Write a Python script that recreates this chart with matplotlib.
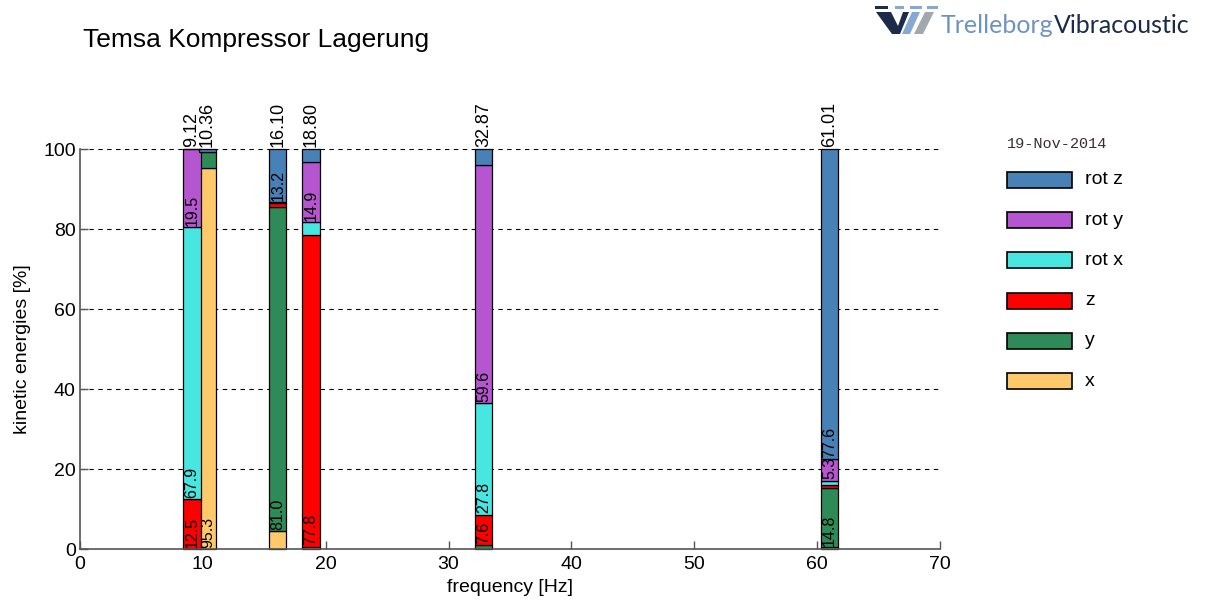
import matplotlib
matplotlib.use("Agg")
import matplotlib.pyplot as plt
from matplotlib.patches import Rectangle, Polygon
from matplotlib.text import Annotation
import numpy as np

# Eigenfrequencies of the mounted compressor [Hz]
frequencies = [9.12, 10.36, 16.10, 18.80, 32.87, 61.01]

# Kinetic energy distribution per mode [%], stacked bottom to top
energy_x = [0.0, 95.3, 4.4, 0.6, 0.0, 0.5]
energy_y = [0.0, 3.9, 81.0, 0.0, 1.0, 14.8]
energy_z = [12.5, 0.0, 1.2, 77.8, 7.6, 0.8]
energy_rot_x = [67.9, 0.0, 0.1, 3.4, 27.8, 1.0]
energy_rot_y = [19.5, 0.0, 0.1, 14.9, 59.6, 5.3]
energy_rot_z = [0.1, 0.8, 13.2, 3.3, 4.0, 77.6]

series_names = ["x", "y", "z", "rot x", "rot y", "rot z"]
series_values = [energy_x, energy_y, energy_z, energy_rot_x, energy_rot_y, energy_rot_z]
series_colors = ["#fec96a", "#2e8b57", "#ff0000", "#48e6e0", "#b655d0", "#4781b6"]

x_ticks = [0, 10, 20, 30, 40, 50, 60, 70]
y_ticks = [0, 20, 40, 60, 80, 100]
date_label = "19-Nov-2014"
title_text = "Temsa Kompressor Lagerung"

plt.rcParams["font.family"] = ["Liberation Sans", "DejaVu Sans"]

W, H = 1210, 610
fig = plt.figure(figsize=(W / 100, H / 100), dpi=100)
fig.patch.set_facecolor("white")


def fx(px):
    return px / W


def fy(py):
    return 1 - py / H


ax = fig.add_axes([fx(80), fy(549), fx(940) - fx(80), fy(149) - fy(549)])
ax.set_xlim(0, 70)
ax.set_ylim(0, 100)

bar_width = 1.4
freqs = np.array(frequencies)
bottom = np.zeros(len(freqs))
for i, (vals, col) in enumerate(zip(series_values, series_colors)):
    vals = np.array(vals)
    mask = vals > 0
    ax.bar(freqs[mask], vals[mask], width=bar_width, bottom=bottom[mask],
           color=col, edgecolor="black", linewidth=0.9, zorder=2 + 2 * i,
           clip_on=False)
    for f, v, b in zip(freqs, vals, bottom):
        if v >= 5:
            ax.text(f, b + 0.3, f"{v:.1f}", rotation=90, ha="center", va="bottom",
                    fontsize=11.5, color="black", zorder=3 + 2 * i)
    bottom += vals

# mode frequency above each bar
for f in frequencies:
    ax.text(f, 100.4, f"{f:.2f}", rotation=90, ha="center", va="bottom",
            fontsize=13, color="black", zorder=20, clip_on=False)

# horizontal dashed grid
for yv in y_ticks[1:]:
    ax.axhline(yv, color="black", linewidth=0.8, linestyle=(0, (4, 4)), zorder=1)

for side in ["top", "right"]:
    ax.spines[side].set_visible(False)
for side in ["left", "bottom"]:
    ax.spines[side].set_color("#555555")
    ax.spines[side].set_linewidth(1.2)
    ax.spines[side].set_zorder(30)

ax.set_xticks(x_ticks)
ax.set_yticks(y_ticks)
ax.tick_params(direction="in", length=6, width=1, color="#555555",
               labelsize=14, top=False, right=False)
ax.tick_params(axis="x", pad=5)
ax.tick_params(axis="y", pad=3)
ax.set_xlabel("frequency [Hz]", fontsize=14, labelpad=4)
ax.set_ylabel("kinetic energies [%]", fontsize=14, labelpad=9)

# title
fig.text(fx(83), fy(38), title_text, fontsize=19, ha="left", va="center_baseline")

# legend, drawn top to bottom from rot z to x
fig.text(fx(1007), fy(144), date_label, family="Liberation Mono", fontsize=11,
         color="#3a3030", ha="left", va="center")
for k, (name, col) in enumerate(zip(series_names[::-1], series_colors[::-1])):
    yc = 180 + 40.2 * k
    fig.patches.append(Rectangle((fx(1007), fy(yc + 8)), fx(1072) - fx(1007),
                                 fy(yc - 8) - fy(yc + 8), facecolor=col,
                                 edgecolor="black", linewidth=1.2,
                                 transform=fig.transFigure, figure=fig))
    fig.text(fx(1085), fy(yc), name, fontsize=14, ha="left", va="center")

# company logo
navy = "#1c2b4a"
light_blue = "#86a9d4"
grey = "#a3a8ae"


def logo_poly(points, color):
    pts = [(fx(px), fy(py)) for px, py in points]
    fig.patches.append(Polygon(pts, closed=True, facecolor=color, edgecolor="none",
                               transform=fig.transFigure, figure=fig))


logo_poly([(875, 6), (888, 6), (888, 8.5), (875, 8.5)], navy)
logo_poly([(895, 6), (904, 6), (904, 8.5), (895, 8.5)], light_blue)
logo_poly([(910, 6), (922, 6), (922, 8.5), (910, 8.5)], light_blue)
logo_poly([(927, 6), (938, 6), (938, 8.5), (927, 8.5)], light_blue)
logo_poly([(876, 12), (891, 12), (898, 26), (903, 12), (909, 12), (900, 34), (892, 34)], navy)
logo_poly([(912, 12), (920, 12), (910, 34), (902, 34)], light_blue)
logo_poly([(925, 12), (934, 12), (923, 34), (914, 34)], grey)

t1 = fig.text(fx(941), fy(33), "Trelleborg", family="Lato", fontsize=18,
              color="#6f93c0", ha="left", va="baseline")
fig.add_artist(Annotation(
    "Vibracoustic", xy=(1, 0), xycoords=t1, xytext=(0, 0), textcoords="offset points",
    family="Lato", fontsize=18, color=navy, ha="left", va="bottom"))

fig.savefig("out.png", dpi=100, facecolor="white")
